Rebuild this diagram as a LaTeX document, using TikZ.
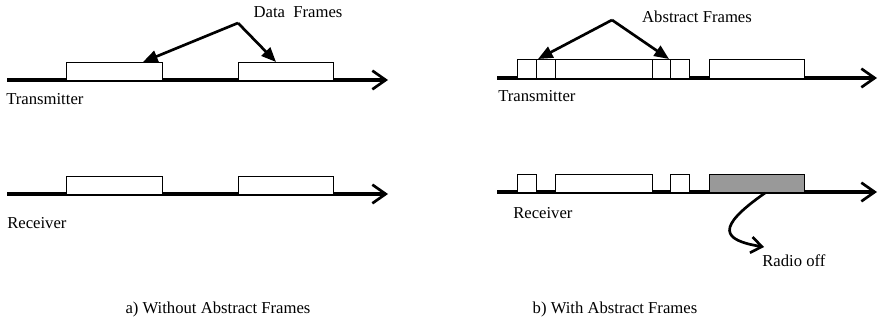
\documentclass[tikz,border=0pt]{standalone}
\usepackage{fontspec}
\setmainfont{Liberation Serif}
\usetikzlibrary{arrows.meta}
\begin{document}
\begin{tikzpicture}[x=0.75pt,y=-0.75pt,
  lbl/.style={inner sep=0pt,font=\fontsize{12.5}{15}\selectfont},
  frame/.style={draw,line width=1pt,fill=white,inner sep=0pt,anchor=north west},
  offframe/.style={frame,fill=gray!80},
  axis/.style={line width=2.3pt,-{Straight Barb[length=10pt,width=14pt,line width=2pt]}},
  pointer/.style={line width=2pt,-{Triangle[length=11pt,width=9pt]}},
  curvy/.style={line width=2pt,-{Straight Barb[length=8pt,width=12pt,line width=2pt]}}]
\useasboundingbox (0,0) rectangle (879,321);
\newcommand\frbox[6][frame]{\node[#1,minimum width={(#4-#3)*0.75pt},minimum height={(#6-#5)*0.75pt}] (#2) at (#3,#5) {};}

% ---------------- panel a ----------------
\coordinate (atx0) at (7,80);  \coordinate (atx1) at (388,80);
\coordinate (arx0) at (7,194); \coordinate (arx1) at (388,194);
\draw[axis] (atx0) -- (atx1);
\draw[axis] (arx0) -- (arx1);
\frbox{ta1}{66}{162}{62}{80}
\frbox{ta2}{238}{333}{62}{80}
\frbox{ra1}{66}{162}{176}{194}
\frbox{ra2}{238}{333}{176}{194}
\node[lbl,anchor=base] (dflab) at (298,18) {Data\ \ Frames};
\coordinate (apexa) at (238,23);
\coordinate (pa1) at (143,62);
\coordinate (pa2) at (276,62);
\draw[pointer] (apexa) -- (pa1);
\draw[pointer] (apexa) -- (pa2);
\node[lbl,anchor=base west] (txa) at (6,105) {Transmitter};
\node[lbl,anchor=base west] (rxa) at (7,228) {Receiver};
\node[lbl,anchor=base] (capa) at (218,313) {a) Without Abstract Frames};

% ---------------- panel b ----------------
\coordinate (btx0) at (497,78);  \coordinate (btx1) at (877,78);
\coordinate (brx0) at (497,192); \coordinate (brx1) at (877,192);
\draw[axis] (btx0) -- (btx1);
\draw[axis] (brx0) -- (brx1);
\frbox{tb1}{517}{536}{59}{78}
\frbox{tb2}{536}{555}{59}{78}
\frbox{tb3}{555}{652}{59}{78}
\frbox{tb4}{652}{670}{59}{78}
\frbox{tb5}{670}{689}{59}{78}
\frbox{tb6}{709}{804}{59}{78}
\frbox{rb1}{517}{536}{174}{192}
\frbox{rb2}{555}{652}{174}{192}
\frbox{rb3}{670}{689}{174}{192}
\frbox[offframe]{rb4}{709}{804}{174}{192}
\node[lbl,anchor=base] (aflab) at (697,23) {Abstract Frames};
\coordinate (apexb) at (612,20);
\coordinate (pb1) at (538,59);
\coordinate (pb2) at (669,59);
\draw[pointer] (apexb) -- (pb1);
\draw[pointer] (apexb) -- (pb2);
\node[lbl,anchor=base west] (txb) at (498,102) {Transmitter};
\node[lbl,anchor=base west] (rxb) at (513,218) {Receiver};
\node[lbl,anchor=base west] (roff) at (762,266) {Radio off};
\coordinate (offstart) at (765,193);
\coordinate (offend) at (764,247);
\draw[curvy] (offstart) .. controls (715,228) and (722,240) .. (offend);
\node[lbl,anchor=base] (capb) at (615,313) {b) With Abstract Frames};
\end{tikzpicture}
\end{document}
